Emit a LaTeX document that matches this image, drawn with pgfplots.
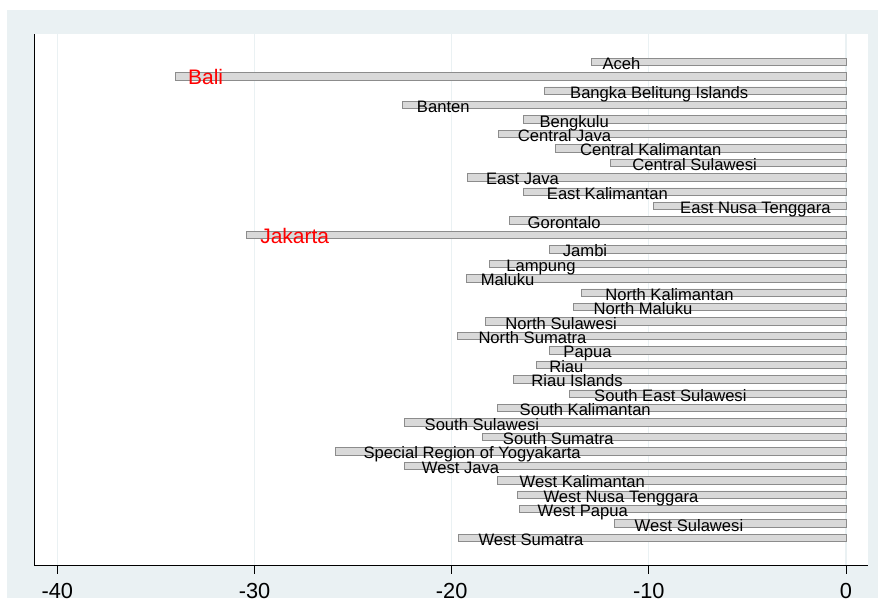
\documentclass[border=0pt]{standalone}
\usepackage{pgfplots}
\pgfplotsset{compat=1.18}
\usepackage{fontspec}
\setmainfont{Liberation Sans}
\definecolor{bgblue}{RGB}{234,241,243}
\definecolor{barfill}{RGB}{217,217,217}
\definecolor{baredge}{RGB}{140,140,140}
\begin{document}
\begin{tikzpicture}
% graph region
\fill[bgblue] (-27.5pt,-32.3pt) rectangle (843.5pt,555.7pt);
\begin{axis}[
    scale only axis,
    width=833.2pt, height=531.7pt,
    xmin=-41.16, xmax=1.10,
    ymin=-0.93, ymax=35.92,
    y dir=reverse,
    axis x line=bottom, axis y line=left,
    axis line style={-, black, line width=0.8pt},
    axis background/.style={fill=white},
    xtick={-40,-30,-20,-10,0},
    xticklabels={-40,-30,-20,-10,0},
    ytick=\empty,
    xtick align=outside,
    major tick length=8pt,
    tick style={black, line width=0.8pt},
    xmajorgrids,
    grid style={bgblue, line width=1.2pt},
    xticklabel style={font=\fontsize{21.8}{22}\selectfont, inner sep=0pt, anchor=north, yshift=-9pt},
    clip=false,
]
\addplot[xbar, bar width=7.5pt, bar shift=0pt, fill=barfill, draw=baredge, line width=0.8pt]
coordinates {
(-12.90,1) (-34.00,2) (-15.30,3) (-22.50,4) (-16.36,5) (-17.61,6) (-14.72,7)
(-11.93,8) (-19.18,9) (-16.36,10) (-9.77,11) (-17.09,12) (-30.41,13) (-15.03,14)
(-18.09,15) (-19.24,16) (-13.40,17) (-13.83,18) (-18.29,19) (-19.71,20) (-15.03,21)
(-15.70,22) (-16.87,23) (-14.03,24) (-17.66,25) (-22.41,26) (-18.44,27) (-25.90,28)
(-22.41,29) (-17.70,30) (-16.65,31) (-16.55,32) (-11.76,33) (-19.66,34)
};
% black labels
\addplot[draw=none, mark=none, nodes near coords, point meta=explicit symbolic,
    nodes near coords style={anchor=base west, inner sep=0pt, yshift=-7.5pt,
        font=\fontsize{16.6}{18}\selectfont, text=black}]
table[col sep=comma, row sep=\\, x=x, y=y, meta=name] {
x,y,name\\
-12.36,1,Aceh\\
-14.00,3,Bangka Belitung Islands\\
-21.77,4,Banten\\
-15.55,5,Bengkulu\\
-16.65,6,Central Java\\
-13.49,7,Central Kalimantan\\
-10.85,8,Central Sulawesi\\
-18.27,9,East Java\\
-15.18,10,East Kalimantan\\
-8.42,11,East Nusa Tenggara\\
-16.16,12,Gorontalo\\
-14.37,14,Jambi\\
-17.24,15,Lampung\\
-18.53,16,Maluku\\
-12.22,17,North Kalimantan\\
-12.81,18,North Maluku\\
-17.29,19,North Sulawesi\\
-18.65,20,North Sumatra\\
-14.34,21,Papua\\
-15.06,22,Riau\\
-15.97,23,Riau Islands\\
-12.78,24,South East Sulawesi\\
-16.56,25,South Kalimantan\\
-21.38,26,South Sulawesi\\
-17.41,27,South Sumatra\\
-24.48,28,Special Region of Yogyakarta\\
-21.52,29,West Java\\
-16.56,30,West Kalimantan\\
-15.35,31,West Nusa Tenggara\\
-15.65,32,West Papua\\
-10.73,33,West Sulawesi\\
-18.65,34,West Sumatra\\
};
% red labels
\addplot[draw=none, mark=none, nodes near coords, point meta=explicit symbolic,
    nodes near coords style={anchor=base west, inner sep=0pt, yshift=-8.5pt,
        font=\fontsize{21}{23}\selectfont, text=red}]
table[col sep=comma, row sep=\\, x=x, y=y, meta=name] {
x,y,name\\
-33.38,2,Bali\\
-29.72,13,Jakarta\\
};
\end{axis}
\pgfresetboundingbox
\useasboundingbox (-34.5pt,-32.3pt) rectangle (843.5pt,565.7pt);
\end{tikzpicture}
\end{document}
